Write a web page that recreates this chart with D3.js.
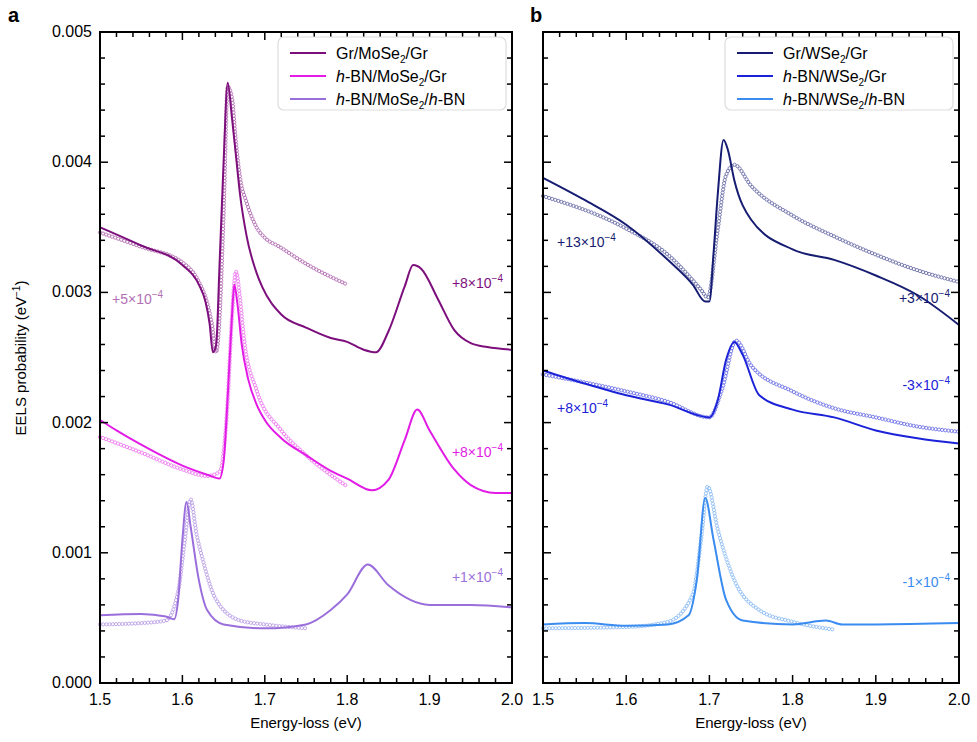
<!DOCTYPE html>
<html><head><meta charset="utf-8">
<script src="https://cdn.jsdelivr.net/npm/d3@7"></script>
<style>body{margin:0;background:#fff}text{font-family:"Liberation Sans",Arial,sans-serif}</style>
</head><body><svg id="c" width="977" height="742"></svg>
<script>
// values in units of 1e-4 eV^-1
const xTicks=[1.5,1.6,1.7,1.8,1.9,2.0];
const yTicks=[0,10,20,30,40,50];
const seriesNamesA=["Gr/MoSe₂/Gr","h-BN/MoSe₂/Gr","h-BN/MoSe₂/h-BN"];
const seriesNamesB=["Gr/WSe₂/Gr","h-BN/WSe₂/Gr","h-BN/WSe₂/h-BN"];
const grMo=[[1.5,35.0],[1.55,33.6],[1.6,32.1],[1.62,30.6],[1.628,29.3],[1.633,27.6],[1.637,25.4],[1.641,26.0],[1.645,32],[1.65,40],[1.655,46.1],[1.66,43.5],[1.665,40.5],[1.67,37.5],[1.678,34.3],[1.69,31.5],[1.697,30.4],[1.72,28.3],[1.75,27.3],[1.78,26.5],[1.8,26.2],[1.82,25.6],[1.835,25.4],[1.85,27.0],[1.87,30.5],[1.88,32.1],[1.89,31.8],[1.91,29.5],[1.93,27.1],[1.95,26.1],[1.97,25.8],[2.0,25.6]];
const grMoFit=[[1.5,34.6],[1.55,33.5],[1.6,32.3],[1.62,30.8],[1.63,29.2],[1.636,27.5],[1.641,25.4],[1.645,28],[1.65,36],[1.655,45.8],[1.66,45],[1.665,41.5],[1.67,38.8],[1.678,36.9],[1.69,35.0],[1.70,34.2],[1.718,33.5],[1.75,32.2],[1.8,30.6]];
const bnMoGr=[[1.5,20.2],[1.52,19.4],[1.55,18.3],[1.6,16.7],[1.63,16.0],[1.645,15.7],[1.65,17],[1.655,22],[1.66,28],[1.663,30.6],[1.667,29],[1.672,26],[1.68,23.3],[1.69,21.4],[1.7,20.2],[1.72,18.8],[1.75,17.5],[1.78,16.3],[1.8,15.7],[1.83,14.8],[1.85,15.6],[1.87,18.7],[1.885,21.0],[1.9,19.4],[1.93,16.4],[1.95,15.2],[1.98,14.6],[2.0,14.6]];
const bnMoGrFit=[[1.5,18.9],[1.55,17.7],[1.6,16.4],[1.63,15.9],[1.645,16.2],[1.655,21.7],[1.66,28],[1.665,31.6],[1.67,29.5],[1.675,26.3],[1.69,22.5],[1.72,19.4],[1.75,17.5],[1.8,15.1]];
const bnMoBn=[[1.5,5.2],[1.55,5.3],[1.58,5.1],[1.59,4.9],[1.595,6.5],[1.6,11],[1.605,13.9],[1.61,12],[1.62,7.9],[1.63,5.6],[1.65,4.5],[1.7,4.2],[1.75,4.5],[1.78,5.6],[1.8,6.8],[1.825,9.1],[1.85,7.5],[1.9,6.0],[1.95,6.0],[2.0,5.8]];
const bnMoBnFit=[[1.5,4.5],[1.55,4.6],[1.58,4.8],[1.595,7.1],[1.603,11],[1.61,14.1],[1.617,11.5],[1.625,9.4],[1.64,6.5],[1.67,4.8],[1.7,4.5],[1.75,4.2]];
const grW=[[1.5,38.8],[1.55,37.1],[1.6,35.2],[1.65,32.5],[1.68,30.6],[1.695,29.3],[1.70,29.3],[1.705,33],[1.71,37.5],[1.717,41.7],[1.722,41],[1.73,38.6],[1.75,35.6],[1.8,33.3],[1.85,32.5],[1.9,31.3],[1.95,29.8],[2.0,27.5]];
const grWFit=[[1.5,37.4],[1.6,34.9],[1.65,32.9],[1.69,30.2],[1.698,29.6],[1.71,34.8],[1.72,39.0],[1.73,39.8],[1.75,38.2],[1.8,35.9],[1.85,34.3],[1.9,32.9],[1.95,31.7],[2.0,30.8]];
const bnWGr=[[1.5,24.0],[1.55,23.0],[1.6,22.1],[1.65,21.4],[1.7,20.4],[1.71,21.7],[1.72,24.8],[1.73,26.2],[1.74,25.2],[1.76,22.1],[1.8,21.0],[1.85,20.4],[1.9,19.4],[1.95,18.8],[2.0,18.4]];
const bnWGrFit=[[1.5,23.7],[1.6,22.4],[1.65,21.6],[1.7,20.4],[1.715,22.5],[1.732,26.3],[1.75,24.4],[1.8,22.4],[1.85,21.1],[1.9,20.4],[1.95,19.7],[2.0,19.3]];
const bnWBn=[[1.5,4.5],[1.55,4.6],[1.6,4.4],[1.65,4.5],[1.675,5.2],[1.685,8],[1.695,14.2],[1.705,11.0],[1.72,6.4],[1.74,4.8],[1.8,4.5],[1.84,4.8],[1.86,4.5],[1.9,4.5],[2.0,4.6]];
const bnWBnFit=[[1.5,4.2],[1.6,4.3],[1.65,4.7],[1.68,6.8],[1.69,11.0],[1.698,15.1],[1.71,11.8],[1.73,7.9],[1.76,5.6],[1.8,4.7],[1.85,4.1]];
// [text, superscript, x, y, colour index, fit-colour?]
const offsetsA=[["+5×10","−4",112,304,0,true],["+8×10","−4",null,288,0,false],["+8×10","−4",null,457,1,false],["+1×10","−4",null,582,2,false]];
const offsetsB=[["+13×10","−4",557,247,0,false],["+3×10","−4",null,303,0,false],["+8×10","−4",557,413,1,false],["-3×10","−4",null,390,1,false],["-1×10","−4",null,587,2,false]];

const colA=["#7d0f7d","#e21ce6","#9b6fdb"], fitA=["#b46fb4","#ef7ef2","#bba2e8"];
const colB=["#161c72","#1b22d8","#3b8cf0"], fitB=["#6f73aa","#6f74e6","#8fbdf6"];
const svg=d3.select("#c");
const T=32,B=683;
const y=d3.scaleLinear().domain([0,50]).range([B,T]);
function panel(x0,x1,lines,fits,cols,fcols,names,offs,letter,lx0,labels){
  const x=d3.scaleLinear().domain([1.5,2.0]).range([x0,x1]);
  const g=svg.append("g");
  const line=d3.line().x(d=>x(d[0])).y(d=>y(d[1])).curve(d3.curveMonotoneX);
  fits.forEach((f,i)=>{
    const p=g.append("path").attr("d",line(f)).attr("fill","none").attr("stroke","none");
    const L=p.node().getTotalLength();
    for(let s=0;s<=L;s+=3.2){const pt=p.node().getPointAtLength(s);
      g.append("circle").attr("cx",pt.x).attr("cy",pt.y).attr("r",1.6).attr("fill","none").attr("stroke",fcols[i]).attr("stroke-width",0.9);}
  });
  lines.forEach((l,i)=>g.append("path").attr("d",line(l)).attr("fill","none").attr("stroke",cols[i]).attr("stroke-width",2));
  g.append("rect").attr("x",x0).attr("y",T).attr("width",x1-x0).attr("height",B-T).attr("fill","none").attr("stroke","#000").attr("stroke-width",2);
  d3.range(1.5,2.0001,0.02).forEach(v=>{const major=Math.abs(v*10-Math.round(v*10))<1e-6;const L=major?8:5;
    g.append("line").attr("x1",x(v)).attr("x2",x(v)).attr("y1",B).attr("y2",B-L).attr("stroke","#000").attr("stroke-width",1.5);
    g.append("line").attr("x1",x(v)).attr("x2",x(v)).attr("y1",T).attr("y2",T+L).attr("stroke","#000").attr("stroke-width",1.5);});
  d3.range(0,50.001,2).forEach(v=>{const major=v%10===0;const L=major?8:5;
    g.append("line").attr("x1",x0).attr("x2",x0+L).attr("y1",y(v)).attr("y2",y(v)).attr("stroke","#000").attr("stroke-width",1.5);
    g.append("line").attr("x1",x1).attr("x2",x1-L).attr("y1",y(v)).attr("y2",y(v)).attr("stroke","#000").attr("stroke-width",1.5);});
  xTicks.forEach(v=>g.append("text").attr("x",x(v)).attr("y",B+22).attr("text-anchor","middle").attr("font-size",16).text(v.toFixed(1)));
  if(labels) yTicks.forEach(v=>g.append("text").attr("x",x0-8).attr("y",y(v)+5).attr("text-anchor","end").attr("font-size",16).text((v/1e4).toFixed(3)));
  g.append("text").attr("x",(x0+x1)/2).attr("y",728).attr("text-anchor","middle").attr("font-size",15).text("Energy-loss (eV)");
  g.append("text").attr("x",lx0).attr("y",22).attr("font-size",20).attr("font-weight","bold").text(letter);
  const lx=x1-234, lw=228;
  g.append("rect").attr("x",lx).attr("y",T+5).attr("width",lw).attr("height",73).attr("rx",6).attr("fill","white").attr("stroke","#ddd").attr("stroke-width",1.2);
  names.forEach((n,i)=>{const yy=T+21+i*23;
    g.append("line").attr("x1",lx+12).attr("x2",lx+48).attr("y1",yy).attr("y2",yy).attr("stroke",cols[i]).attr("stroke-width",2);
    const t=g.append("text").attr("x",lx+58).attr("y",yy+6).attr("font-size",16);
    const parts=n.split(/(h-BN|₂)/).filter(s=>s);
    let shift=0;
    parts.forEach(p=>{
      if(p==="h-BN"){t.append("tspan").attr("font-style","italic").attr("dy",shift).text("h");shift=0;t.append("tspan").text("-BN");}
      else if(p==="₂"){t.append("tspan").attr("font-size",10).attr("dy",4).text("2");shift=-4;}
      else {t.append("tspan").attr("dy",shift).text(p);shift=0;}
    });
  });
  offs.forEach(o=>{const t=g.append("text").attr("y",o[3]).attr("font-size",14).attr("fill",o[5]?fcols[o[4]]:cols[o[4]]);
    if(o[2]===null) t.attr("text-anchor","end").attr("x",x1-9); else t.attr("x",o[2]);
    t.append("tspan").text(o[0]);t.append("tspan").attr("font-size",10).attr("dy",-6).text(o[1]);});
}
panel(100,512,[grMo,bnMoGr,bnMoBn],[grMoFit,bnMoGrFit,bnMoBnFit],colA,fitA,seriesNamesA,offsetsA,"a",8,true);
panel(543,959,[grW,bnWGr,bnWBn],[grWFit,bnWGrFit,bnWBnFit],colB,fitB,seriesNamesB,offsetsB,"b",530,false);
svg.append("text").attr("transform","translate(26,358) rotate(-90)").attr("text-anchor","middle").attr("font-size",15)
  .html('EELS probability (eV<tspan font-size="10" dy="-6">−1</tspan><tspan dy="6">)</tspan>');
</script></body></html>
